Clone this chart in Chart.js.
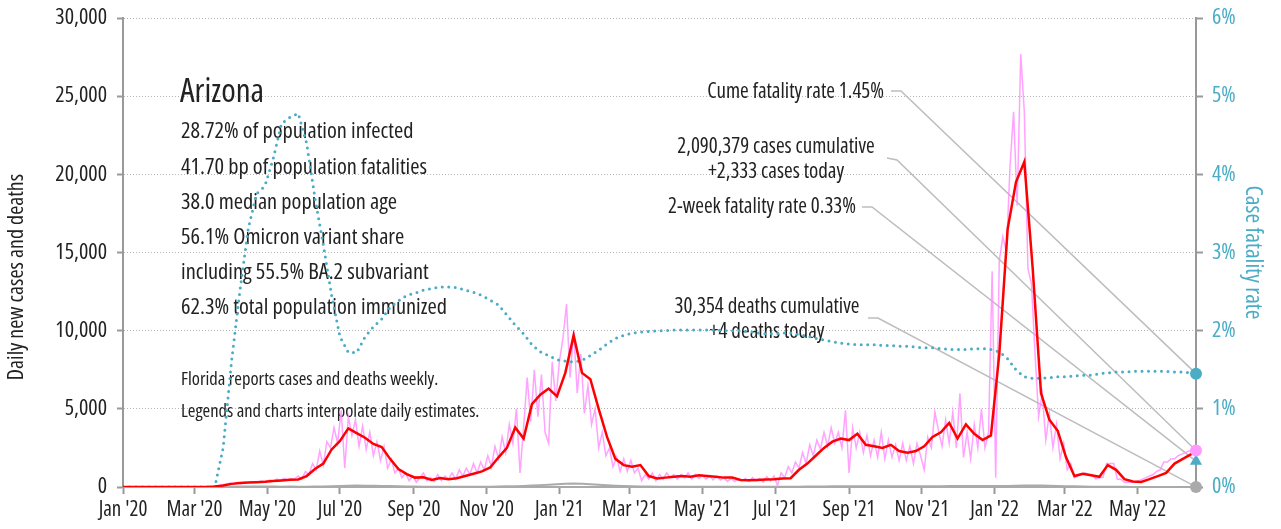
<!DOCTYPE html>
<html>
<head>
<meta charset="utf-8">
<script src="https://cdn.jsdelivr.net/npm/chart.js@4.4.1/dist/chart.umd.min.js"></script>
<style>
  html, body { margin: 0; padding: 0; background: #fff; }
  #c { display: block; }
</style>
</head>
<body>
<canvas id="c" width="1281" height="529"></canvas>
<script>
// Arizona daily cases / deaths / case fatality rate, Jan 2020 - Jun 2022
// x values are days since 2020-01-01

const lastDay = 900; // 2022-06-19

const tickDates = ['2020-01-01', '2020-03-01', '2020-05-01', '2020-07-01', '2020-09-01', '2020-11-01',
  '2021-01-01', '2021-03-01', '2021-05-01', '2021-07-01', '2021-09-01', '2021-11-01',
  '2022-01-01', '2022-03-01', '2022-05-01'];
const tickLabels = ["Jan '20", "Mar '20", "May '20", "Jul '20", "Sep '20", "Nov '20",
  "Jan '21", "Mar '21", "May '21", "Jul '21", "Sep '21", "Nov '21",
  "Jan '22", "Mar '22", "May '22"];

// daily new cases, one reading every 3 days
const dailyStep = 3;
const dailyCases = [
  0, 0, 0, 0, 0, 0, 0, 0, 0, 0,
  0, 0, 0, 0, 0, 0, 0, 0, 0, 0,
  0, 0, 0, 0, 0, 20, 60, 100, 150, 200,
  250, 180, 280, 200, 300, 260, 350, 300, 330, 380,
  300, 450, 380, 500, 420, 550, 450, 520, 500, 700,
  500, 1000, 800, 1500, 1100, 2300, 1400, 2900, 2500, 3800,
  2800, 4900, 1200, 4500, 3300, 4300, 2600, 3900, 2400, 3500,
  2000, 2900, 1700, 2600, 1200, 1800, 900, 1200, 600, 900,
  400, 700, 300, 600, 900, 400, 600, 350, 800, 400,
  700, 500, 900, 500, 1100, 700, 1200, 800, 1500, 900,
  1600, 1100, 2000, 1300, 2600, 1800, 3200, 2200, 4000, 2800,
  5000, 900, 3800, 7000, 4200, 7500, 4500, 7200, 3500, 2800,
  8000, 5500, 8000, 9500, 11700, 7000, 10000, 6000, 8500, 4700,
  6500, 4000, 5000, 2500, 3500, 2000, 2500, 1300, 1900, 1000,
  1800, 1000, 1700, 900, 1200, 400, 800, 500, 900, 400,
  800, 500, 900, 600, 800, 500, 800, 600, 900, 500,
  800, 550, 750, 500, 700, 450, 700, 450, 600, 350,
  550, 350, 500, 400, 550, 350, 600, 400, 550, 300,
  650, 400, 700, 100, 900, 600, 1300, 900, 1600, 1200,
  2200, 1500, 2700, 2000, 3000, 2400, 3500, 2600, 3800, 2800,
  3500, 2500, 4900, 900, 3800, 2500, 3500, 2200, 3300, 2000,
  3000, 1900, 3500, 1800, 3000, 1900, 2700, 1700, 2800, 1700,
  2600, 1500, 2800, 2000, 1100, 3200, 2500, 4800, 3600, 2600,
  4300, 2800, 4800, 2500, 6000, 1900, 3500, 1800, 4000, 2500,
  5000, 2500, 3500, 13800, 600, 14500, 16000, 15000, 20500, 24000,
  18000, 27700, 24000, 14000, 13000, 8500, 4500, 6000, 3000, 4700,
  2500, 4000, 1800, 2800, 1100, 1500, 600, 700, 800, 900,
  800, 800, 500, 600, 600, 1500, 1500, 1500, 500, 500,
  300, 300, 300, 300, 400, 500, 600, 700, 800, 1000,
  1100, 1600, 1600, 1800, 1800, 2000, 2100, 2200, 2300, 2333
];

// weekly readings (every 7 days from 2020-01-01)
const weekStep = 7;
const avgCases = [
  0, 0, 0, 0, 0, 0, 0, 0, 0, 0,
  0, 30, 100, 200, 250, 290, 310, 330, 380, 420,
  460, 480, 700, 1150, 1500, 2400, 2950, 3750, 3450, 3150,
  2750, 2550, 1800, 1150, 820, 600, 620, 450, 580, 500,
  560, 700, 850, 1000, 1250, 1900, 2500, 3800, 3100, 5300,
  5900, 6300, 5800, 7300, 9700, 7300, 6900, 5000, 3200, 1800,
  1400, 1300, 1400, 700, 550, 600, 650, 700, 650, 750,
  700, 650, 600, 600, 450, 430, 450, 480, 500, 550,
  560, 1100, 1500, 2000, 2500, 2900, 3100, 3000, 3400, 2700,
  2600, 2500, 2700, 2300, 2200, 2300, 2600, 3200, 3500, 4100,
  3100, 4000, 3400, 3000, 3300, 8500, 16500, 19500, 20800, 14000,
  6000, 4300, 3600, 1900, 700, 850, 750, 650, 1400, 1100,
  500, 350, 320, 500, 700, 900, 1500, 1800, 2100
];
const avgToday = 2240;

const dailyDeaths = [
  0, 0, 0, 0, 0, 0, 0, 0, 0, 0,
  0, 5, 15, 20, 25, 25, 30, 30, 25, 20,
  25, 20, 20, 25, 30, 40, 60, 80, 90, 85,
  80, 70, 60, 45, 35, 25, 20, 15, 15, 12,
  10, 12, 15, 18, 20, 30, 40, 55, 70, 90,
  120, 150, 180, 210, 230, 200, 170, 140, 110, 80,
  60, 45, 35, 30, 20, 15, 15, 12, 12, 10,
  10, 10, 8, 8, 8, 8, 8, 10, 10, 12,
  15, 20, 25, 30, 35, 40, 45, 45, 45, 45,
  40, 40, 40, 40, 40, 40, 45, 50, 55, 60,
  65, 70, 70, 60, 60, 60, 70, 80, 90, 95,
  90, 80, 60, 50, 40, 30, 20, 15, 12, 10,
  8, 6, 5, 5, 5, 5, 5, 5, 5
];
const deathsToday = 4;

// case fatality rate, percent
const fatalityRate = [
  0, 0, 0, 0, 0, 0, 0, 0, 0, 0,
  0, 0, 0.5, 1.6, 2.5, 3.3, 3.75, 3.85, 4.2, 4.65,
  4.73, 4.78, 4.4, 3.7, 3.1, 2.45, 1.92, 1.72, 1.72, 1.92,
  2.05, 2.15, 2.3, 2.38, 2.45, 2.48, 2.52, 2.54, 2.56, 2.56,
  2.55, 2.52, 2.49, 2.45, 2.39, 2.33, 2.2, 2.07, 1.96, 1.82,
  1.73, 1.68, 1.63, 1.61, 1.6, 1.62, 1.68, 1.75, 1.83, 1.9,
  1.94, 1.97, 1.98, 1.99, 2.0, 2.0, 2.01, 2.01, 2.01, 2.01,
  2.01, 2.01, 2.0, 2.0, 2.0, 1.99, 1.97, 1.96, 1.96, 1.97,
  1.97, 1.95, 1.93, 1.9, 1.88, 1.86, 1.84, 1.83, 1.82, 1.82,
  1.82, 1.81, 1.81, 1.8, 1.8, 1.79, 1.78, 1.78, 1.77, 1.76,
  1.76, 1.76, 1.77, 1.77, 1.76, 1.73, 1.64, 1.5, 1.41, 1.39,
  1.39, 1.4, 1.41, 1.41, 1.42, 1.43, 1.43, 1.45, 1.46, 1.47,
  1.47, 1.48, 1.48, 1.48, 1.48, 1.48, 1.47, 1.47, 1.46
];

const cumeFatality = 1.45;
const twoWeekFatality = 0.33;
const casesToday = 2333;

const stateName = 'Arizona';
const statLines = [
  '28.72% of population infected',
  '41.70 bp of population fatalities',
  '38.0 median population age',
  '56.1% Omicron variant share',
  'including 55.5% BA.2 subvariant',
  '62.3% total population immunized'
];
const footLines = [
  'Florida reports cases and deaths weekly.',
  'Legends and charts interpolate daily estimates.'
];
const leftTitle = 'Daily new cases and deaths';

// condensed Open Sans (width axis); stretch goes in the weight slot for Chart.js
const FAMILY = '"Open Sans", sans-serif';
const COND = '400 condensed';
const TEAL = '#4bacc6';
const PINK = '#ff99ff';

const dayOf = (s) => (Date.parse(s) - Date.UTC(2020, 0, 1)) / 86400000;
const tickDays = tickDates.map(dayOf);

const seq = (arr, step) => arr.map((v, i) => ({ x: i * step, y: v }));

// callouts: text block + leader line to a "today" marker
const callouts = [
  { lines: ['Cume fatality rate 1.45%'], align: 'right', x: 884, y: 92, from: [891, 91], elbow: [901, 91], axis: 'y1', value: cumeFatality },
  { lines: ['2,090,379 cases cumulative', '+2,333 cases today'], align: 'center', x: 776, y: 147, from: [887, 158], elbow: [897, 160], axis: 'y', value: casesToday },
  { lines: ['2-week fatality rate 0.33%'], align: 'right', x: 856, y: 207, from: [862, 207], elbow: [872, 207], axis: 'y1', value: twoWeekFatality },
  { lines: ['30,354 deaths cumulative', '+4 deaths today'], align: 'center', x: 767, y: 307, from: [868, 318], elbow: [878, 318], axis: 'y', value: deathsToday }
];

const font = (px) => COND + ' ' + px + 'px ' + FAMILY;

const notes = {
  id: 'notes',
  beforeDatasetsDraw(chart) {
    const ctx = chart.ctx;
    ctx.save();
    ctx.fillStyle = '#222';
    ctx.textBaseline = 'middle';
    ctx.textAlign = 'left';
    ctx.font = font(33);
    ctx.fillText(stateName, 180, 93);
    ctx.font = font(22.4);
    statLines.forEach((t, i) => ctx.fillText(t, 181, 132 + i * 35.2));
    ctx.font = font(18.5);
    footLines.forEach((t, i) => ctx.fillText(t, 181, 380 + i * 32));

    // left axis title
    ctx.save();
    ctx.translate(17, 277);
    ctx.rotate(-Math.PI / 2);
    ctx.textAlign = 'center';
    ctx.font = font(22);
    ctx.fillText(leftTitle, 0, 0);
    ctx.restore();

    const ex = chart.scales.x.getPixelForValue(lastDay);
    ctx.font = font(21);
    callouts.forEach((c) => {
      ctx.textAlign = c.align;
      c.lines.forEach((t, i) => ctx.fillText(t, c.x, c.y + i * 25));
      const ey = chart.scales[c.axis].getPixelForValue(c.value);
      ctx.strokeStyle = '#bdbdbd';
      ctx.lineWidth = 1.5;
      ctx.beginPath();
      ctx.moveTo(c.from[0], c.from[1]);
      ctx.lineTo(c.elbow[0], c.elbow[1]);
      ctx.lineTo(ex, ey);
      ctx.stroke();
    });
    ctx.restore();
  }
};

Chart.defaults.font.family = FAMILY;
Chart.defaults.font.weight = COND;

new Chart(document.getElementById('c'), {
  type: 'line',
  data: {
    datasets: [
      { data: [{ x: lastDay, y: cumeFatality }], yAxisID: 'y1', showLine: false, pointRadius: 6, pointBackgroundColor: TEAL, pointBorderWidth: 0, clip: false },
      { data: [{ x: lastDay, y: casesToday }], yAxisID: 'y', showLine: false, pointRadius: 6, pointBackgroundColor: PINK, pointBorderWidth: 0, clip: false },
      { data: [{ x: lastDay, y: twoWeekFatality }], yAxisID: 'y1', showLine: false, pointStyle: 'triangle', pointRadius: 7, pointBackgroundColor: TEAL, pointBorderWidth: 0, clip: false },
      { data: [{ x: lastDay, y: deathsToday }], yAxisID: 'y', showLine: false, pointRadius: 6, pointBackgroundColor: '#aaa', pointBorderWidth: 0, clip: false },
      { data: seq(avgCases, weekStep).concat([{ x: lastDay, y: avgToday }]), yAxisID: 'y', borderColor: '#ff0000', borderWidth: 2.5, pointRadius: 0 },
      { data: seq(fatalityRate, weekStep).concat([{ x: lastDay, y: cumeFatality }]), yAxisID: 'y1', borderColor: TEAL, borderWidth: 3, borderDash: [0, 6.5], borderCapStyle: 'round', pointRadius: 0 },
      { data: seq(dailyCases, dailyStep).concat([{ x: lastDay, y: casesToday }]), yAxisID: 'y', borderColor: 'rgba(255,140,255,0.8)', borderWidth: 1.5, pointRadius: 0 },
      { data: seq(dailyDeaths, weekStep).concat([{ x: lastDay, y: deathsToday }]), yAxisID: 'y', borderColor: '#aaa', borderWidth: 2, pointRadius: 0 }
    ]
  },
  options: {
    responsive: false,
    animation: false,
    devicePixelRatio: 1,
    layout: { padding: { top: 18, left: 0, right: 0, bottom: 0 } },
    plugins: { legend: { display: false }, tooltip: { enabled: false } },
    elements: { line: { tension: 0 }, point: { radius: 0 } },
    scales: {
      x: {
        type: 'linear',
        min: 0,
        max: lastDay,
        afterBuildTicks: (s) => { s.ticks = tickDays.map((v) => ({ value: v })); },
        afterFit: (s) => { s.height = 42; s.paddingLeft = 0; s.paddingRight = 0; },
        ticks: { autoSkip: false, maxRotation: 0, padding: 3, color: '#222', font: { size: 21 }, callback: (v, i) => tickLabels[i] },
        grid: { drawOnChartArea: false, drawTicks: true, tickLength: 7, tickColor: '#999', tickWidth: 2 },
        border: { color: '#aaa', width: 2 }
      },
      y: {
        position: 'left',
        min: 0,
        max: 30000,
        afterFit: (s) => { s.width = 123; s.paddingTop = 0; s.paddingBottom = 0; },
        ticks: { stepSize: 5000, padding: 10, color: '#222', font: { size: 22 }, callback: (v) => v.toLocaleString('en-US') },
        grid: { color: '#b5b5b5', lineWidth: 1, tickLength: 6, tickColor: '#999', tickWidth: 2, tickBorderDash: [] },
        border: { color: '#999', width: 2, dash: [1, 2] }
      },
      y1: {
        position: 'right',
        min: 0,
        max: 6,
        afterFit: (s) => { s.width = 85; s.paddingTop = 0; s.paddingBottom = 0; },
        ticks: { stepSize: 1, padding: 9, color: TEAL, font: { size: 22 }, callback: (v) => v + '%' },
        grid: { drawOnChartArea: false, tickLength: 7, tickColor: '#999', tickWidth: 2 },
        border: { color: '#999', width: 2 },
        title: { display: true, text: 'Case fatality rate', color: TEAL, font: { size: 23.5 }, padding: { top: 14, bottom: 0 } }
      }
    }
  },
  plugins: [notes]
});
</script>
</body>
</html>
